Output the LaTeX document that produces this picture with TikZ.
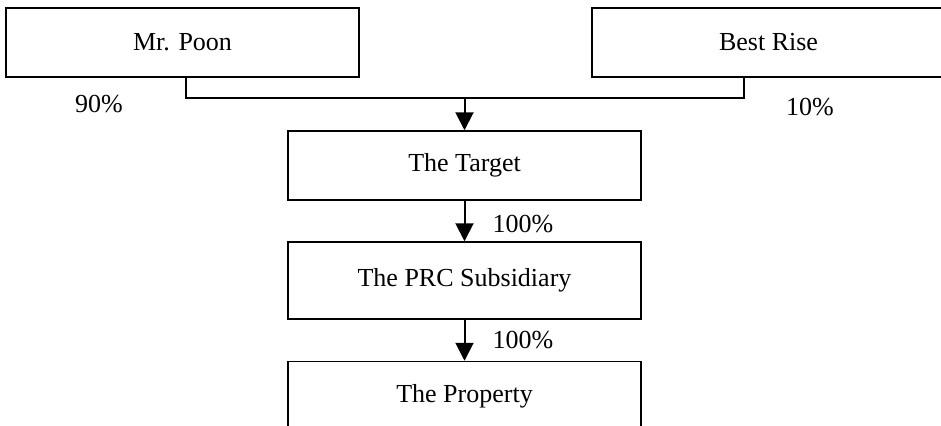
\documentclass[tikz,border=0pt]{standalone}
\usepackage{fontspec}
\setmainfont{Liberation Serif}
\usetikzlibrary{arrows.meta}

\begin{document}
\begin{tikzpicture}[x=0.5pt, y=-0.5pt, line width=0.75pt,
	box/.style={draw, rectangle, line width=0.75pt, minimum width=176.5pt, minimum height=34.5pt, inner sep=0pt, font=\fontsize{13}{15}\selectfont},
	pct/.style={font=\fontsize{13}{15}\selectfont, inner sep=0pt},
	arr/.style={line width=1pt, -{Triangle[width=9pt, length=9pt]}}]

	\clip (0,0) rectangle (941,425);
	\useasboundingbox (0,0) rectangle (941,425);

	\node[box] (poon) at (182.5,42.5) {Mr. Poon};
	\node[box] (rise) at (768.5,42.5) {Best Rise};
	\node[box] (target) at (464.5,165.5) {The Target};
	\node[box, minimum height=38.5pt] (prc) at (464.5,280.5) {The PRC Subsidiary};
	\node[box] (prop) at (464.5,396) {The Property};

	\node[pct] (p90) at (99,104) {90\%};
	\node[pct] (p10) at (810,107) {10\%};
	\node[pct] (p100a) at (523,224) {100\%};
	\node[pct] (p100b) at (523,340) {100\%};

	\coordinate (jl) at (186,98);
	\coordinate (jr) at (744,98);

	\draw (poon.south -| jl) -- (jl) -- (jr) -- (rise.south -| jr);
	\draw[arr] (target.north |- jl) -- (target.north);
	\draw[arr] (target) -- (prc);
	\draw[arr] (prc) -- (prop);

\end{tikzpicture}
\end{document}
